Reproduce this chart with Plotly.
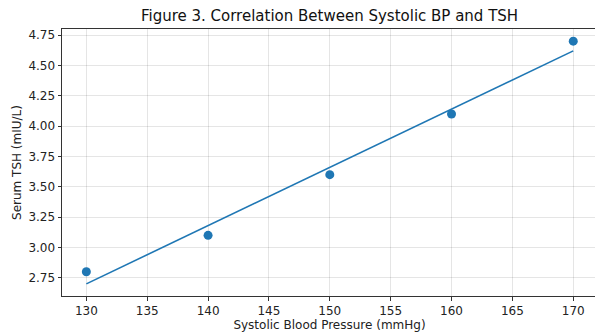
import numpy as np
import plotly.graph_objects as go

systolic_bp = [130, 140, 150, 160, 170]
serum_tsh = [2.8, 3.1, 3.6, 4.1, 4.7]
x_ticks = [130, 135, 140, 145, 150, 155, 160, 165, 170]
y_ticks = [2.75, 3.00, 3.25, 3.50, 3.75, 4.00, 4.25, 4.50, 4.75]

slope, intercept = np.polyfit(systolic_bp, serum_tsh, 1)
fit_y = [slope * x + intercept for x in systolic_bp]

blue = "#1f77b4"
fig = go.Figure()
fig.add_trace(go.Scatter(x=systolic_bp, y=fit_y, mode="lines",
                         line=dict(color=blue, width=1.6), showlegend=False))
fig.add_trace(go.Scatter(x=systolic_bp, y=serum_tsh, mode="markers",
                         marker=dict(color=blue, size=9), showlegend=False))

font = "DejaVu Sans"
fig.update_layout(
    width=597, height=336,
    margin=dict(l=62, r=0, t=29, b=40, autoexpand=False),
    paper_bgcolor="white", plot_bgcolor="white",
    font=dict(family=font, size=12, color="#222"),
    title=dict(text="Figure 3. Correlation Between Systolic BP and TSH",
               x=0.552, xanchor="center", y=1 - 16 / 336, yanchor="middle",
               font=dict(size=15, color="#111")),
)
axis_common = dict(
    showline=True, linecolor="#333", linewidth=1,
    ticks="outside", ticklen=3.5, tickcolor="#333", tickwidth=1,
    showgrid=True, gridcolor="rgba(0,0,0,0.1)", gridwidth=1,
    zeroline=False, tickfont=dict(size=12, color="#222"),
    automargin=False,
)
fig.update_xaxes(range=[128, 171.95], tickvals=x_ticks, mirror=True,
                 ticktext=[str(v) for v in x_ticks],
                 title=dict(text="Systolic Blood Pressure (mmHg)", standoff=2,
                            font=dict(size=12)), **axis_common)
fig.update_yaxes(range=[2.6, 4.8], tickvals=y_ticks, mirror=False,
                 ticktext=[f"{v:.2f}" for v in y_ticks],
                 title=dict(text="Serum TSH (mIU/L)", standoff=4,
                            font=dict(size=12)), **axis_common)

fig.write_html("out.html", config={"displayModeBar": False},
               post_script="document.body.style.margin='0';document.body.style.padding='0';document.body.style.overflow='hidden';")
